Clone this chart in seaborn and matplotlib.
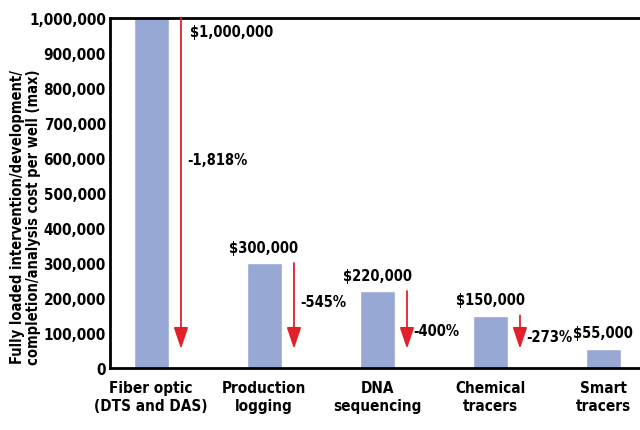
import matplotlib
matplotlib.use("Agg")
import matplotlib.pyplot as plt
import pandas as pd
import seaborn as sns

# ── Data ──────────────────────────────────────────────────────────────────────
categories = [
    "Fiber optic\n(DTS and DAS)",
    "Production\nlogging",
    "DNA\nsequencing",
    "Chemical\ntracers",
    "Smart\ntracers",
]
costs = [1_000_000, 300_000, 220_000, 150_000, 55_000]
reductions = ["-1,818%", "-545%", "-400%", "-273%"]
ytick_values = [0, 100_000, 200_000, 300_000, 400_000, 500_000,
                600_000, 700_000, 800_000, 900_000, 1_000_000]

BAR = "#97a8d5"
RED = "#e3202a"
FS = 11       # tick labels
FS_ANN = 10.5  # value / percentage labels

sns.set_theme(style="white")
plt.rcParams["font.family"] = ["DejaVu Sans"]
plt.rcParams["font.stretch"] = "condensed"
plt.rcParams["font.weight"] = "bold"
plt.rcParams["text.color"] = "black"
plt.rcParams["ytick.color"] = "black"
plt.rcParams["xtick.color"] = "black"
plt.rcParams["axes.labelcolor"] = "black"

df = pd.DataFrame({"method": categories, "cost": costs})

fig = plt.figure(figsize=(6.4, 4.31), dpi=100)
ax = fig.add_axes([110 / 640, 62 / 431, 530 / 640, 350 / 431])
sns.barplot(data=df, x="method", y="cost", color=BAR, width=0.31,
            saturation=1, ax=ax)

ax.set_xlim(-0.363, 4.327)
ax.set_ylim(0, 1_000_000)
ax.set_yticks(ytick_values)
ax.set_yticklabels([f"{v:,}" for v in ytick_values], fontsize=FS)
ax.tick_params(axis="y", direction="in", length=11.5, width=1, pad=3)
ax.tick_params(axis="x", length=0, labelsize=FS, pad=9)
ax.set_xlabel("")
ax.set_ylabel("Fully loaded intervention/development/\n"
              "completion/analysis cost per well (max)", fontsize=10.5,
              fontweight="bold", linespacing=1.1)
ax.yaxis.set_label_coords(-0.13, 0.434)

for side in ["left", "top", "bottom"]:
    ax.spines[side].set_visible(True)
    ax.spines[side].set_color("black")
    ax.spines[side].set_linewidth(2)
ax.spines["right"].set_visible(False)

# reduction arrows down to the smart-tracer cost
label_y = [597_000, 189_000, 106_000, 91_000]
for i, (txt, ly) in enumerate(zip(reductions, label_y)):
    ax.annotate("", xy=(i + 0.265, costs[-1]), xytext=(i + 0.265, costs[i]),
                arrowprops=dict(arrowstyle="-|>,head_length=0.65,head_width=0.22",
                                color=RED, lw=1.3, mutation_scale=20,
                                shrinkA=0, shrinkB=0))
    ax.text(i + 0.32, ly, txt, fontsize=FS_ANN, ha="left", va="center")

# value labels
for i, v in enumerate(costs):
    if i == 0:
        ax.text(i + 0.345, 960_000, f"${v:,}", fontsize=FS_ANN,
                ha="left", va="center")
    else:
        ax.annotate(f"${v:,}", xy=(i, v), xytext=(0, 6),
                    textcoords="offset points", ha="center", va="bottom",
                    fontsize=FS_ANN)

fig.savefig("out.png", dpi=100)
